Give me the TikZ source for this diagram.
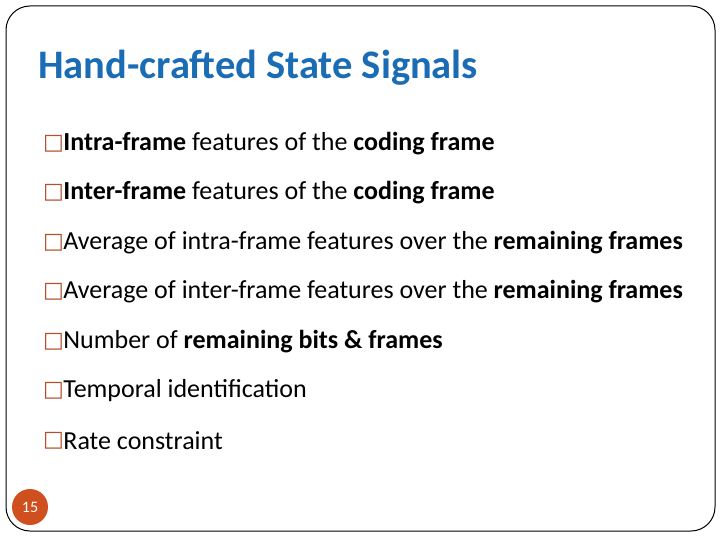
\documentclass[tikz,border=0pt]{standalone}
\usepackage{fontspec}
\setmainfont{Carlito}
\newfontfamily\symf{DejaVu Sans}
\definecolor{titleblue}{HTML}{1A6DB5}
\definecolor{bulletc}{HTML}{B5502A}
\definecolor{pagec}{HTML}{D04F1E}
\begin{document}
\begin{tikzpicture}[x=1pt,y=-1pt,
  item/.style={anchor=west,inner sep=0pt,font=\fontsize{26}{30}\selectfont},
  bul/.style={anchor=west,inner sep=0pt,font=\symf\fontsize{22}{24}\selectfont,text=bulletc}]
\useasboundingbox (0,0) rectangle (720,540);
\fill[white] (0,0) rectangle (720,540);
\draw[line width=1pt,rounded corners=24] (6,6) rectangle (715,531);
\node[anchor=base west,inner sep=0pt,text=titleblue,font=\bfseries\fontsize{40.5}{44}\selectfont] (title) at (38,79) {Hand-crafted State Signals};
\foreach \y/\t [count=\i] in {144/{\textbf{Intra-frame} features of the \textbf{coding frame}},
  193/{\textbf{Inter-frame} features of the \textbf{coding frame}},
  243/{Average of intra-frame features over the \textbf{remaining frames}},
  292/{Average of inter-frame features over the \textbf{remaining frames}},
  342/{Number of \textbf{remaining bits \& frames}},
  391/{Temporal identification},
  441/{Rate constraint}}{
  \node[bul] (b\i) at (43,\y) {□};
  \node[item] (t\i) at ([xshift=-1pt]b\i.east) {\t};
}
\node[circle,fill=pagec,minimum size=36pt,inner sep=0pt,text=white,font=\fontsize{16}{18}\selectfont] (page) at (30,507) {15};
\end{tikzpicture}
\end{document}
